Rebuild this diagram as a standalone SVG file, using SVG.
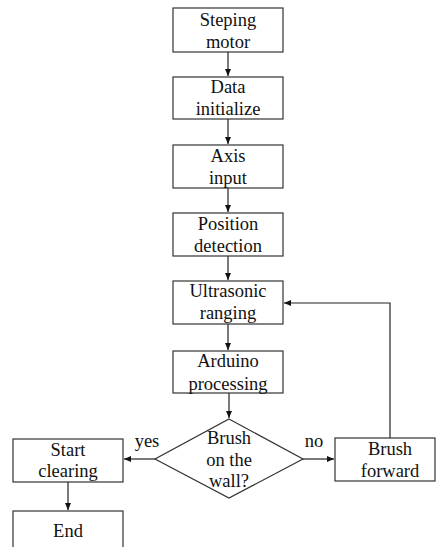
<svg xmlns="http://www.w3.org/2000/svg" width="436" height="547" viewBox="0 0 436 547">
<style>
.box{fill:#fff;stroke:#333;stroke-width:1.2}
.t{font-family:'Liberation Serif','Times New Roman',serif;font-size:18.5px;fill:#111;text-anchor:middle}
.c{fill:none;stroke:#222;stroke-width:1.2}
</style>
<defs>
<marker id="ah" markerWidth="8" markerHeight="8" refX="7" refY="4" orient="auto" markerUnits="userSpaceOnUse">
<path d="M0,1 L7,4 L0,7 Z" fill="#111"/>
</marker>
</defs>
<rect width="436" height="547" fill="#fff"/>
<g id="connectors">
<line class="c" x1="228" y1="52" x2="228" y2="76" marker-end="url(#ah)"/>
<line class="c" x1="228" y1="119" x2="228" y2="144" marker-end="url(#ah)"/>
<line class="c" x1="228" y1="188" x2="228" y2="212" marker-end="url(#ah)"/>
<line class="c" x1="228" y1="256" x2="228" y2="280" marker-end="url(#ah)"/>
<line class="c" x1="228" y1="324" x2="228" y2="350" marker-end="url(#ah)"/>
<line class="c" x1="229" y1="393" x2="229" y2="418" marker-end="url(#ah)"/>
<line class="c" x1="155" y1="459" x2="124" y2="459" marker-end="url(#ah)"/>
<line class="c" x1="303" y1="459" x2="334" y2="459" marker-end="url(#ah)"/>
<polyline class="c" points="390,438 390,303 284,303" marker-end="url(#ah)"/>
<line class="c" x1="68" y1="482" x2="68" y2="510" marker-end="url(#ah)"/>
<text class="t" x="147" y="447">yes</text>
<text class="t" x="314" y="447">no</text>
</g>
<g id="n1"><rect class="box" x="173" y="8" width="110" height="44"/><text class="t" x="228" y="26">Steping</text><text class="t" x="228" y="48">motor</text></g>
<g id="n2"><rect class="box" x="173" y="77" width="110" height="42"/><text class="t" x="228" y="93">Data</text><text class="t" x="228" y="115">initialize</text></g>
<g id="n3"><rect class="box" x="173" y="145" width="110" height="43"/><text class="t" x="228" y="162">Axis</text><text class="t" x="228" y="184">input</text></g>
<g id="n4"><rect class="box" x="173" y="213" width="110" height="43"/><text class="t" x="228" y="230">Position</text><text class="t" x="228" y="252">detection</text></g>
<g id="n5"><rect class="box" x="173" y="281" width="110" height="43"/><text class="t" x="228" y="297">Ultrasonic</text><text class="t" x="228" y="319">ranging</text></g>
<g id="n6"><rect class="box" x="173" y="351" width="110" height="42"/><text class="t" x="228" y="367">Arduino</text><text class="t" x="228" y="390">processing</text></g>
<g id="n7"><polygon class="box" points="229,419 303,459 229,498 155,459"/><text class="t" x="229" y="444">Brush</text><text class="t" x="229" y="466">on the</text><text class="t" x="229" y="487">wall?</text></g>
<g id="n8"><rect class="box" x="13" y="439" width="110" height="43"/><text class="t" x="68" y="456">Start</text><text class="t" x="68" y="477">clearing</text></g>
<g id="n9"><rect class="box" x="335" y="438" width="100" height="43"/><text class="t" x="390" y="455">Brush</text><text class="t" x="390" y="477">forward</text></g>
<g id="n10"><rect class="box" x="13" y="511" width="110" height="42"/><text class="t" x="68" y="537">End</text></g>
</svg>
